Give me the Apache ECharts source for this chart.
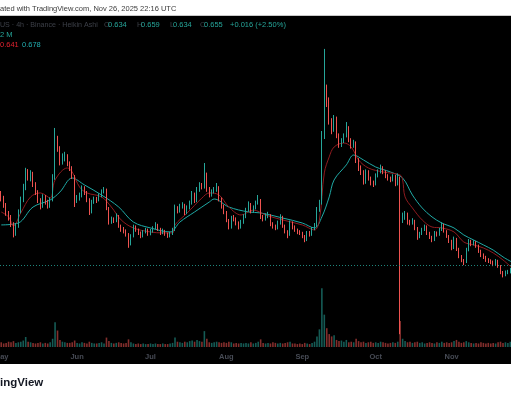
<!DOCTYPE html>
<html><head><meta charset="utf-8">
<script src="https://cdn.jsdelivr.net/npm/echarts@6/dist/echarts.min.js"></script>
<style>html,body{margin:0;padding:0;background:#fff;}#c{width:511px;height:400px;}</style>
</head><body><div id="c"></div>
<script>
// ---- data (daily aggregation of the 4h Heikin Ashi chart) ----
const startDate = [2025, 4, 1]; // May 1, 2025 (month index 4)
const monthNames = ['Jan','Feb','Mar','Apr','May','Jun','Jul','Aug','Sep','Oct','Nov','Dec'];
const firstOpen = 1.100;
const closes = [
1.081,1.038,0.988,0.956,0.919,0.856,0.906,0.994,1.069,1.144,
1.244,1.206,1.231,1.169,1.119,1.069,1.031,1.088,1.056,1.031,
1.069,1.206,1.456,1.394,1.306,1.331,1.344,1.300,1.269,1.219,
1.069,1.081,1.094,1.144,1.119,1.075,0.994,1.056,1.075,1.069,
1.094,1.119,1.131,1.019,0.931,0.950,0.938,0.969,0.906,0.888,
0.875,0.856,0.794,0.844,0.900,0.881,0.863,0.844,0.869,0.881,
0.856,0.875,0.894,0.913,0.888,0.863,0.875,0.856,0.844,0.856,
0.881,1.019,1.000,1.031,1.038,0.988,1.019,1.050,1.106,1.063,
1.131,1.163,1.150,1.219,1.138,1.100,1.119,1.131,1.144,1.075,
1.031,0.994,0.944,0.900,0.956,0.950,0.925,0.900,0.931,0.963,
1.006,1.038,1.000,1.019,1.050,1.069,0.963,0.950,0.969,0.975,
0.919,0.906,0.894,0.925,0.963,0.906,0.875,0.850,0.925,0.900,
0.881,0.869,0.863,0.844,0.819,0.863,0.850,0.888,0.906,1.006,
1.050,1.463,1.756,1.694,1.569,1.506,1.581,1.475,1.413,1.438,
1.469,1.519,1.444,1.406,1.425,1.319,1.269,1.244,1.181,1.244,
1.206,1.175,1.169,1.219,1.244,1.269,1.244,1.219,1.206,1.194,
1.213,1.169,1.206,0.944,0.956,0.981,0.931,0.925,0.938,0.894,
0.838,0.856,0.881,0.900,0.863,0.838,0.819,0.863,0.850,0.881,
0.913,0.875,0.844,0.813,0.769,0.825,0.763,0.719,0.694,0.681,
0.756,0.806,0.794,0.806,0.781,0.750,0.725,0.713,0.694,0.688,
0.681,0.669,0.688,0.656,0.619,0.600,0.613,0.619,0.631,0.655];
const highs = [
1.125,1.095,1.050,1.000,0.975,0.930,0.925,1.010,1.090,1.170,
1.270,1.262,1.255,1.245,1.180,1.130,1.080,1.105,1.100,1.070,
1.085,1.230,1.519,1.470,1.405,1.360,1.370,1.355,1.310,1.280,
1.225,1.100,1.115,1.160,1.155,1.125,1.080,1.070,1.090,1.088,
1.110,1.135,1.150,1.140,1.025,0.965,0.960,0.985,0.975,0.915,
0.900,0.885,0.862,0.855,0.915,0.910,0.890,0.872,0.880,0.895,
0.890,0.888,0.905,0.930,0.920,0.895,0.890,0.882,0.865,0.870,
0.895,1.040,1.030,1.045,1.055,1.045,1.035,1.065,1.125,1.115,
1.150,1.180,1.175,1.300,1.240,1.150,1.135,1.150,1.175,1.155,
1.085,1.040,1.000,0.950,0.970,0.975,0.960,0.935,0.945,0.980,
1.020,1.060,1.050,1.035,1.065,1.100,1.075,0.975,0.985,0.995,
0.980,0.930,0.915,0.940,0.980,0.970,0.915,0.880,0.940,0.935,
0.910,0.890,0.880,0.870,0.850,0.875,0.875,0.900,0.925,1.025,
1.070,1.500,2.013,1.790,1.710,1.580,1.600,1.590,1.485,1.455,
1.485,1.556,1.530,1.455,1.445,1.435,1.330,1.285,1.255,1.260,
1.255,1.215,1.190,1.235,1.260,1.290,1.280,1.255,1.230,1.215,
1.230,1.225,1.235,1.215,0.990,1.000,0.990,0.945,0.955,0.945,
0.900,0.870,0.895,0.915,0.910,0.870,0.845,0.875,0.872,0.895,
0.930,0.920,0.880,0.850,0.820,0.840,0.832,0.770,0.725,0.700,
0.770,0.825,0.820,0.818,0.812,0.790,0.758,0.735,0.720,0.705,
0.698,0.690,0.700,0.695,0.662,0.625,0.628,0.632,0.645,0.659];
const lows = [
1.060,1.020,0.970,0.940,0.900,0.835,0.845,0.895,0.985,1.055,
1.130,1.190,1.185,1.150,1.100,1.050,1.010,1.020,1.040,1.015,
1.020,1.060,1.195,1.370,1.285,1.290,1.310,1.280,1.250,1.200,
1.025,1.050,1.065,1.085,1.100,1.055,0.975,0.985,1.045,1.050,
1.060,1.085,1.110,1.005,0.915,0.920,0.925,0.930,0.895,0.870,
0.860,0.840,0.770,0.785,0.835,0.870,0.850,0.830,0.835,0.860,
0.845,0.848,0.865,0.885,0.875,0.850,0.855,0.845,0.832,0.835,
0.850,0.875,0.985,0.990,1.015,0.975,0.980,1.010,1.040,1.050,
1.055,1.120,1.135,1.140,1.120,1.085,1.090,1.110,1.120,1.060,
1.015,0.980,0.930,0.885,0.890,0.935,0.910,0.885,0.890,0.920,
0.955,0.995,0.985,0.990,1.010,1.040,0.950,0.935,0.940,0.955,
0.905,0.890,0.880,0.885,0.915,0.895,0.860,0.830,0.845,0.885,
0.870,0.855,0.850,0.830,0.805,0.812,0.840,0.845,0.880,0.900,
0.995,1.040,1.450,1.650,1.540,1.480,1.495,1.455,1.395,1.400,
1.425,1.460,1.430,1.390,1.395,1.300,1.250,1.225,1.165,1.170,
1.190,1.160,1.150,1.160,1.210,1.235,1.230,1.205,1.190,1.180,
1.185,1.155,1.160,0.230,0.925,0.945,0.915,0.910,0.915,0.880,
0.820,0.830,0.850,0.875,0.850,0.825,0.805,0.812,0.840,0.845,
0.875,0.865,0.832,0.800,0.755,0.762,0.750,0.705,0.680,0.662,
0.675,0.748,0.780,0.785,0.770,0.738,0.712,0.700,0.682,0.675,
0.668,0.655,0.660,0.645,0.605,0.585,0.592,0.605,0.610,0.625];
const volumes = [
8,6,7,9,8,10,7,8,9,11,
17,9,8,7,6,7,8,6,7,6,
8,14,42,28,12,9,8,7,7,8,
11,7,6,8,7,6,9,7,6,6,
7,8,6,16,10,7,6,7,8,7,
6,7,13,8,6,5,6,5,6,5,
5,6,5,6,5,5,6,5,5,6,
7,16,9,8,7,9,8,10,11,9,
12,10,9,27,14,8,7,8,9,8,
7,8,7,9,8,6,7,6,7,6,
7,6,8,6,7,9,13,7,6,7,
6,8,7,6,7,6,7,8,9,6,
6,5,6,5,7,6,5,7,9,18,
30,100,55,32,22,18,20,12,10,11,
9,12,8,9,8,14,10,8,9,7,
8,9,7,8,7,9,8,7,6,7,
8,7,9,44,14,10,8,9,7,8,
9,7,8,6,7,8,7,6,8,7,
9,7,8,7,8,10,12,9,7,8,
10,8,7,6,7,6,8,7,6,7,
6,7,6,8,9,7,8,7,9,12];
const maFastDays = [0,3,5,8,12,16,20,22,27,29,32,35,41,45,49,54,61,66,70,71,76,82,85,89,93,98,103,108,115,123,128,130,132,134,136,140,143,146,150,156,163,164,165,168,172,176,180,185,189,193,197,201,205,209];
const maFastVals = [0.994,0.963,0.906,0.988,1.088,1.113,1.081,1.194,1.269,1.244,1.150,1.113,1.088,1.025,0.944,0.894,0.869,0.863,0.863,0.913,0.988,1.081,1.113,1.100,1.025,0.975,1.006,0.975,0.944,0.913,0.881,0.944,1.238,1.338,1.400,1.425,1.400,1.319,1.269,1.244,1.225,1.194,1.088,1.019,0.944,0.900,0.894,0.869,0.806,0.788,0.769,0.738,0.694,0.641];
const maSlowDays = [0,7,13,20,24,29,34,41,48,54,61,69,73,79,85,87,93,101,106,115,123,128,131,134,136,141,144,148,153,159,164,168,172,176,180,185,189,193,197,201,205,209];
const maSlowVals = [0.913,0.925,1.025,1.069,1.119,1.206,1.163,1.100,1.025,0.931,0.894,0.869,0.931,0.994,1.056,1.075,1.025,0.994,0.988,0.956,0.925,0.894,0.963,1.088,1.194,1.288,1.350,1.319,1.275,1.244,1.206,1.100,1.019,0.963,0.925,0.894,0.850,0.819,0.788,0.756,0.713,0.678];
const lastPrice = 0.655;
const headerInfo = 'US · 4h · Binance · Heikin Ashi';
const ohlcLabels = ['O','H','L','C'];
const ohlcValues = ['0.634','0.659','0.634','0.655'];
const changeText = '+0.016 (+2.50%)';
const volumeText = '2 M';
const maTexts = ['0.641','0.678'];

// ---- build ----
const UP = '#26a69a', DOWN = '#ef5350';
const dates = closes.map((_, i) => {
  const d = new Date(Date.UTC(startDate[0], startDate[1], startDate[2] + i));
  return d.toISOString().slice(0, 10);
});
const opens = closes.map((c, i) => i === 0 ? firstOpen : closes[i - 1]);
const candleData = closes.map((c, i) => [opens[i], c, lows[i], highs[i]]);
const volData = volumes.map((v, i) => ({
  value: v,
  itemStyle: { color: closes[i] >= opens[i] ? 'rgba(38,166,154,0.55)' : 'rgba(239,83,80,0.55)' }
}));
const fastLine = maFastDays.map((d, i) => [d, maFastVals[i]]);
const slowLine = maSlowDays.map((d, i) => [d, maSlowVals[i]]);

const FONT = '"Liberation Sans", Arial, sans-serif';
const DIM = '#3d4049';
function txt(text, x, y, fill, size, weight) {
  return { type: 'text', z: 100, style: { text: text, x: x, y: y, fill: fill,
    fontSize: size || 7.5, fontFamily: FONT, fontWeight: weight || 'normal', verticalAlign: 'middle', align: 'left' } };
}
const ohlcX = [104, 137, 170, 200];
const ohlcValX = [108, 141, 173, 204];
const graphics = [
  { type: 'rect', z: -10, shape: { x: 0, y: 16, width: 511, height: 348 }, style: { fill: '#000' } },
  { type: 'line', z: -9, shape: { x1: 0, y1: 15.5, x2: 511, y2: 15.5 }, style: { stroke: '#c9c9c9', lineWidth: 1 } },
  txt('ated with TradingView.com, Nov 26, 2025 22:16 UTC', 0, 8.5, '#3a3a3a', 7.5),
  txt('ingView', 0, 383, '#131722', 11.5, 'bold'),
  txt(headerInfo, 0, 25, DIM, 7.1),
  txt(volumeText, 0, 35, UP, 7.5),
  txt(maTexts[0], 0, 45, '#e2222f', 7.5),
  txt(maTexts[1], 22, 45, '#22aeb0', 7.5),
  txt(changeText, 230, 25, UP, 7.5)
];
ohlcLabels.forEach((l, i) => {
  graphics.push(txt(l, ohlcX[i], 25, DIM, 7.5));
  graphics.push(txt(ohlcValues[i], ohlcValX[i], 25, UP, 7.5));
});

const chart = echarts.init(document.getElementById('c'), null, { renderer: 'canvas' });
chart.setOption({
  animation: false,
  backgroundColor: '#fff',
  graphic: { elements: graphics },
  grid: [
    { left: 0, right: -3, top: 19, bottom: 45, outerBoundsMode: 'none', containLabel: false },
    { left: 0, right: -3, top: 287, bottom: 53, outerBoundsMode: 'none', containLabel: false }
  ],
  xAxis: [
    { type: 'category', gridIndex: 0, data: dates, boundaryGap: true,
      axisLine: { show: false }, axisTick: { show: false }, axisLabel: { show: false }, splitLine: { show: false } },
    { type: 'category', gridIndex: 1, data: dates, boundaryGap: true,
      axisLine: { show: false }, axisTick: { show: false }, splitLine: { show: false },
      axisLabel: { show: true, color: '#474b55', fontSize: 7.5, fontFamily: FONT, fontWeight: 'bold', margin: 6,
        interval: (idx, val) => val.slice(8, 10) === '01',
        formatter: (val) => monthNames[parseInt(val.slice(5, 7), 10) - 1] } }
  ],
  yAxis: [
    { type: 'value', gridIndex: 0, min: 0.1, max: 2.2, show: false, splitLine: { show: false } },
    { type: 'value', gridIndex: 1, min: 0, max: 102, show: false, splitLine: { show: false } }
  ],
  series: [
    { type: 'bar', xAxisIndex: 1, yAxisIndex: 1, data: volData, barWidth: 1.6, z: 1 },
    { type: 'line', xAxisIndex: 0, yAxisIndex: 0, data: slowLine, smooth: 0.35, showSymbol: false,
      lineStyle: { color: '#1fa9a5', width: 1 }, z: 3 },
    { type: 'line', xAxisIndex: 0, yAxisIndex: 0, data: fastLine, smooth: 0.35, showSymbol: false,
      lineStyle: { color: '#8e1b1f', width: 1 }, z: 3 },
    { type: 'candlestick', xAxisIndex: 0, yAxisIndex: 0, data: candleData, barWidth: 1, z: 4,
      itemStyle: { color: UP, color0: DOWN, borderColor: UP, borderColor0: DOWN, borderWidth: 1 },
      markLine: { silent: true, symbol: 'none', label: { show: false },
        lineStyle: { color: UP, type: [1, 2], width: 1, opacity: 0.8 },
        data: [{ yAxis: lastPrice }] } }
  ]
});
</script></body></html>
